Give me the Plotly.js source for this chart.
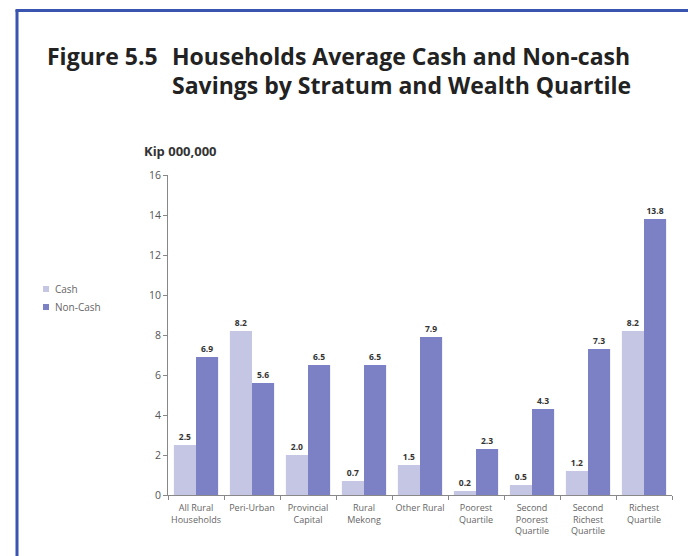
<!DOCTYPE html>
<html><head><meta charset="utf-8">
<script src="https://cdn.plot.ly/plotly-3.0.1.min.js"></script>
<style>html,body{margin:0;padding:0;background:#fff}#c{width:688px;height:556px}</style>
</head><body><div id="c"></div>
<script>
const categories = ["All Rural<br>Households","Peri-Urban","Provincial<br>Capital","Rural<br>Mekong","Other Rural","Poorest<br>Quartile","Second<br>Poorest<br>Quartile","Second<br>Richest<br>Quartile","Richest<br>Quartile"];
const cash = [2.5, 8.2, 2.0, 0.7, 1.5, 0.2, 0.5, 1.2, 8.2];
const nonCash = [6.9, 5.6, 6.5, 6.5, 7.9, 2.3, 4.3, 7.3, 13.8];
const yTicks = [0, 2, 4, 6, 8, 10, 12, 14, 16];
const seriesNames = ["Cash", "Non-Cash"];
const seriesColors = ["#c5c6e4", "#7c80c4"];

const W = 688, H = 556, L = 168, R = 16, T = 175, B = 61;
const pw = W - L - R, ph = H - T - B;
const px = v => (v - L) / pw;
const py = v => (H - B - v) / ph;
const fam = "'Open Sans', 'Noto Sans', sans-serif";
const lblFont = {family: fam, size: 8.5, color: '#333'};

const traces = [
  {type:'bar', name:seriesNames[0], x:categories, y:cash, marker:{color:seriesColors[0]},
   text:cash.map(v=>'<b>'+v.toFixed(1)+'</b>'), textposition:'outside', textfont:lblFont, cliponaxis:false},
  {type:'bar', name:seriesNames[1], x:categories, y:nonCash, marker:{color:seriesColors[1]},
   text:nonCash.map(v=>'<b>'+v.toFixed(1)+'</b>'), textposition:'outside', textfont:lblFont, cliponaxis:false}
];

const legendY = [289, 307];
const legendShapes = seriesNames.map((n, i) => ({type:'rect', xref:'paper', yref:'paper',
  x0: px(43), x1: px(49), y0: py(legendY[i] + 3), y1: py(legendY[i] - 3),
  fillcolor: seriesColors[i], line:{width:0}}));
const legendAnns = seriesNames.map((n, i) => ({xref:'paper', yref:'paper', x: px(53), y: py(legendY[i]),
  xanchor:'left', yanchor:'middle', showarrow:false, text:n, font:{family:fam, size:10, color:'#666'}}));

const layout = {
  width: W, height: H,
  margin: {l: L, r: R, t: T, b: B, pad: 0},
  paper_bgcolor: '#fff', plot_bgcolor: '#fff',
  barmode: 'group', bargap: 0.21, bargroupgap: 0,
  font: {family: fam, color: '#555'},
  xaxis: {
    type: 'category', showline: true, linecolor: '#888', linewidth: 1,
    ticks: 'outside', tickson: 'boundaries', ticklen: 4, tickcolor: '#888',
    tickangle: 0, ticklabelstandoff: 4, tickfont: {family: fam, size: 9, color: '#666'}, showgrid: false
  },
  yaxis: {
    range: [0, 16], tickvals: yTicks, ticktext: yTicks.map(String),
    showline: true, linecolor: '#888', linewidth: 1,
    ticks: 'outside', ticklen: 4, tickcolor: '#888',
    tickfont: {family: fam, size: 10.5, color: '#555'}, showgrid: false, zeroline: false
  },
  showlegend: false,
  annotations: [
    {xref:'paper', yref:'paper', x: px(45), y: py(56), xanchor:'left', yanchor:'middle', showarrow:false,
     text:'<b>Figure 5.5</b>', font:{family:fam, size:23, color:'#222'}},
    {xref:'paper', yref:'paper', x: px(170), y: py(56), xanchor:'left', yanchor:'middle', showarrow:false,
     text:'<b>Households Average Cash and Non-cash</b>', font:{family:fam, size:23, color:'#222'}},
    {xref:'paper', yref:'paper', x: px(170), y: py(85), xanchor:'left', yanchor:'middle', showarrow:false,
     text:'<b>Savings by Stratum and Wealth Quartile</b>', font:{family:fam, size:23, color:'#222'}},
    {xref:'paper', yref:'paper', x: px(142), y: py(151), xanchor:'left', yanchor:'middle', showarrow:false,
     text:'<b>Kip 000,000</b>', font:{family:fam, size:13, color:'#333'}}
  ].concat(legendAnns),
  shapes: [
    {type:'line', xref:'paper', yref:'paper', x0: px(17), x1: px(17), y0: py(10), y1: py(H), line:{color:'#3a55b0', width:3}},
    {type:'line', xref:'paper', yref:'paper', x0: px(15.5), x1: px(W), y0: py(10.5), y1: py(10.5), line:{color:'#3a55b0', width:3}}
  ].concat(legendShapes)
};

Plotly.newPlot('c', traces, layout, {displayModeBar: false, staticPlot: true});
</script></body></html>
